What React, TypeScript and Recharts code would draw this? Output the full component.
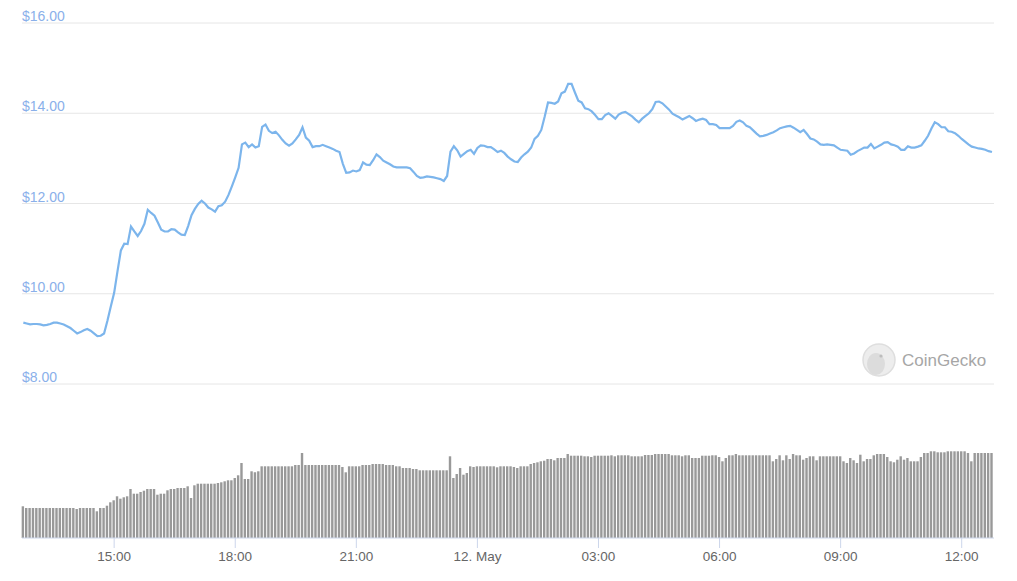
import { Bar, BarChart, CartesianGrid, Line, LineChart, XAxis, YAxis } from "recharts";

// minutes since 11 May 00:00
const START = 765; // 12:45
const STEP = 5;
const X_DOMAIN = [763, 2208];
const timeTicks = [900, 1080, 1260, 1440, 1620, 1800, 1980, 2160];
const priceTicks = [8, 10, 12, 14, 16];

// price every 5 minutes, USD
const prices = [
  9.36, 9.34, 9.32, 9.33, 9.33, 9.32, 9.3, 9.31, 9.33, 9.36, 9.36, 9.34,
  9.32, 9.28, 9.24, 9.18, 9.12, 9.15, 9.19, 9.22, 9.18, 9.12, 9.06, 9.07,
  9.12, 9.4, 9.72, 10.02, 10.5, 10.96, 11.11, 11.1, 11.49, 11.38, 11.28, 11.39,
  11.55, 11.86, 11.79, 11.73, 11.58, 11.42, 11.38, 11.38, 11.43, 11.42, 11.36, 11.31,
  11.3, 11.5, 11.74, 11.88, 11.99, 12.06, 12.0, 11.91, 11.87, 11.82, 11.94, 11.96,
  12.04, 12.19, 12.38, 12.58, 12.79, 13.31, 13.35, 13.25, 13.31, 13.24, 13.27, 13.7,
  13.75, 13.61, 13.56, 13.59, 13.51, 13.41, 13.33, 13.28, 13.33, 13.42, 13.52, 13.69,
  13.46, 13.39, 13.25, 13.27, 13.27, 13.3, 13.27, 13.24, 13.21, 13.17, 13.14, 12.88,
  12.68, 12.69, 12.73, 12.71, 12.74, 12.91, 12.86, 12.85, 12.96, 13.09, 13.03, 12.95,
  12.91, 12.87, 12.82, 12.8, 12.8, 12.8, 12.8, 12.78, 12.7, 12.61, 12.57, 12.58,
  12.6, 12.59, 12.58, 12.56, 12.54, 12.5, 12.61, 13.15, 13.27, 13.18, 13.04, 13.1,
  13.16, 13.19, 13.1, 13.23, 13.29, 13.28, 13.25, 13.25, 13.2, 13.14, 13.17, 13.12,
  13.04, 12.98, 12.93, 12.92, 13.02, 13.09, 13.15, 13.24, 13.43, 13.5, 13.63, 13.92,
  14.24, 14.23, 14.21, 14.26, 14.44, 14.48, 14.65, 14.65, 14.46, 14.28, 14.24, 14.11,
  14.09, 14.04, 13.96, 13.87, 13.87, 13.96, 14.0, 13.94, 13.88, 13.97, 14.01, 14.03,
  13.98, 13.93, 13.86, 13.8, 13.88, 13.94, 14.0, 14.09, 14.25, 14.26, 14.22, 14.15,
  14.08, 13.99, 13.95, 13.91, 13.86, 13.9, 13.94, 13.89, 13.83, 13.86, 13.88, 13.85,
  13.76, 13.76, 13.74, 13.67, 13.67, 13.67, 13.67, 13.72, 13.81, 13.84, 13.8, 13.72,
  13.69, 13.62, 13.55, 13.49, 13.5, 13.52, 13.55, 13.58, 13.62, 13.67, 13.69, 13.71,
  13.72, 13.68, 13.63, 13.58, 13.63, 13.54, 13.44, 13.42, 13.37, 13.31, 13.3, 13.31,
  13.3, 13.29, 13.24, 13.19, 13.18, 13.17, 13.08, 13.11, 13.16, 13.2, 13.24, 13.24,
  13.32, 13.22, 13.26, 13.3, 13.35, 13.36, 13.31, 13.29, 13.26, 13.19, 13.19, 13.27,
  13.24, 13.24, 13.26, 13.29, 13.39, 13.5, 13.66, 13.8, 13.76, 13.69, 13.69, 13.6,
  13.59, 13.56, 13.5, 13.43, 13.37, 13.31, 13.26, 13.24, 13.22, 13.21, 13.19, 13.16,
  13.14,
];

// volume every 5 minutes, $M (24h rolling)
const volumes = [
  31.7, 30, 30, 30, 30, 30, 30, 30, 30, 30, 30, 30,
  30, 30, 30, 30, 29, 30, 30, 30, 30, 30, 26.7, 30,
  30, 32.3, 35.7, 37.7, 41.7, 39.3, 40.7, 41.7, 49, 44.3, 44.3, 46,
  47.3, 49, 49, 49, 43.3, 44.3, 44.3, 47.7, 49, 49, 50, 50,
  50, 51.7, 40, 52.7, 54.3, 54.3, 54.3, 54.3, 54.3, 54.3, 55, 55.7,
  56.7, 57.7, 57.7, 60, 62.7, 75, 59, 59, 66.7, 65.7, 66.7, 71.7,
  71.7, 71.7, 71.7, 71.7, 71.7, 71.7, 71.7, 71.7, 71.7, 73, 73, 85,
  73, 73, 73, 73, 73, 73, 73, 73, 73, 73, 73, 71,
  65.7, 71.7, 71.7, 71.7, 71.7, 73, 73, 73, 74, 74, 74, 74,
  73, 73, 73, 71.7, 71.7, 70, 70, 70, 69, 69, 67.7, 67.7,
  67.7, 67.7, 67.7, 67.7, 67.7, 67.7, 67.7, 81.7, 60, 64, 70, 63.3,
  65, 71.7, 71, 71.7, 71.7, 71.7, 71.7, 71.7, 71.7, 70.7, 71.7, 71.7,
  71.7, 71.7, 71, 70, 71.7, 71.7, 71.7, 74, 75, 75.7, 76.7, 77.3,
  79, 79, 77.7, 80, 80, 80, 84, 82.3, 82.3, 82.3, 82.3, 81.7,
  81.7, 81, 82.3, 82.3, 82.3, 82.3, 82.3, 82.7, 81.7, 82.7, 82.7, 82.7,
  82.7, 81.7, 81.7, 81.7, 81.7, 83, 83, 83, 84, 84, 84, 84,
  84, 82.7, 82.7, 82.7, 81.7, 82.7, 82.7, 80, 80, 80, 82.3, 82.3,
  82.3, 82.7, 82.7, 81, 76.7, 80, 82.7, 82.7, 84, 82.7, 82.7, 82.7,
  82.7, 82.7, 82.7, 82.7, 82.7, 82.7, 82.7, 76.7, 79, 82.7, 77.7, 82.7,
  79, 84, 82.7, 82.7, 78.3, 80, 81.7, 81.7, 77.7, 81.7, 81.7, 81.7,
  81.7, 81.7, 81.7, 81.7, 76.7, 75, 80, 77.7, 75, 83.3, 76.7, 79,
  79, 82.7, 84, 84, 84, 81, 76.7, 75.7, 78.3, 81.7, 78.3, 80,
  76.7, 76.7, 76.7, 81, 85, 85, 86.7, 86.7, 85.7, 85.7, 85.7, 86.7,
  86.7, 86.7, 86.7, 86.7, 86.7, 85, 76.7, 85, 85, 85, 85, 85,
  85,
];

const data = prices.map((price, i) => ({
  t: START + i * STEP,
  price,
  volume: volumes[i],
}));

const formatTime = (t: number) => {
  if (t % 1440 === 0) return "12. May";
  const h = Math.floor((t % 1440) / 60);
  return `${String(h).padStart(2, "0")}:00`;
};

const PriceTick = (props: any) => {
  const { y, payload } = props;
  return (
    <text x={22} y={y - 2} fill="#8ab0ea" fontSize={14} textAnchor="start">
      {`$${Number(payload.value).toFixed(2)}`}
    </text>
  );
};

const Watermark = () => (
  <svg
    width={1017}
    height={581}
    style={{ position: "absolute", left: 0, top: 0, pointerEvents: "none" }}
  >
    <circle cx={879} cy={360} r={16} fill="#ededed" stroke="#dedede" strokeWidth={1.5} />
    <ellipse cx={876} cy={364} rx={9} ry={11} fill="#dcdcdc" />
    <circle cx={881} cy={356} r={1.6} fill="#bdbdbd" />
    <text x={902} y={366} fill="#a6a6a6" fontSize={17}>
      CoinGecko
    </text>
  </svg>
);

const App = () => {
  return (
    <div
      style={{
        position: "absolute",
        left: 0,
        top: 0,
        width: 1017,
        height: 581,
        background: "#fff",
        fontFamily: "'Liberation Sans', Arial, sans-serif",
      }}
    >
      <div style={{ position: "absolute", left: 0, top: 0 }}>
        <LineChart
          width={1017}
          height={400}
          data={data}
          margin={{ top: 23, right: 23, bottom: 16, left: 0 }}
        >
          <CartesianGrid vertical={false} stroke="#e6e6e6" />
          <XAxis dataKey="t" type="number" domain={X_DOMAIN} hide />
          <YAxis
            domain={[8, 16]}
            ticks={priceTicks}
            interval={0}
            width={22}
            axisLine={false}
            tickLine={false}
            tick={PriceTick}
          />
          <Line
            dataKey="price"
            type="linear"
            stroke="#7cb5ec"
            strokeWidth={2.2}
            dot={false}
            isAnimationActive={false}
          />
        </LineChart>
      </div>
      <div style={{ position: "absolute", left: 0, top: 400 }}>
        <BarChart
          width={1017}
          height={181}
          data={data}
          margin={{ top: 38, right: 23, bottom: 13, left: 22 }}
        >
          <XAxis
            dataKey="t"
            type="number"
            domain={X_DOMAIN}
            ticks={timeTicks}
            interval={0}
            tickFormatter={formatTime}
            height={30}
            tickSize={10}
            tickMargin={3}
            axisLine={{ stroke: "#ccd6eb" }}
            tickLine={{ stroke: "#ccd6eb" }}
            tick={{ fill: "#666666", fontSize: 13.5 }}
          />
          <YAxis domain={[0, 100]} hide />
          <Bar dataKey="volume" fill="#999999" barSize={2.4} isAnimationActive={false} />
        </BarChart>
      </div>
      <Watermark />
    </div>
  );
};

export default App;
